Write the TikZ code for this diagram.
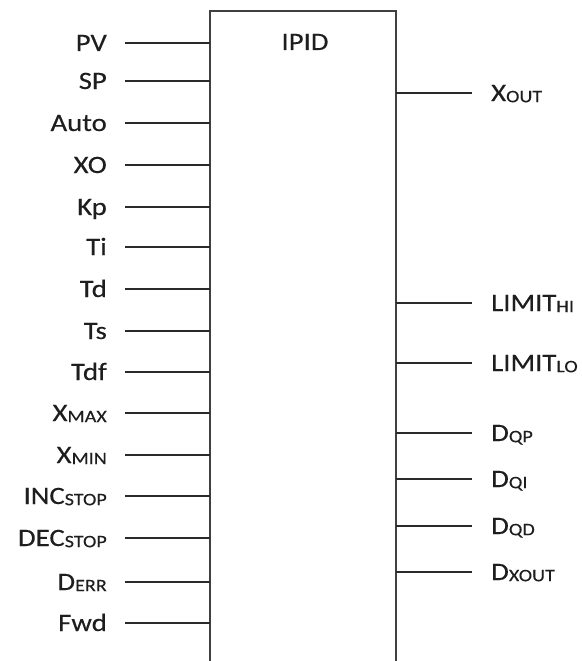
\documentclass[tikz,border=0pt]{standalone}
\usepackage{fontspec}
\setmainfont{Carlito}[FakeStretch=1.15,FakeBold=0.3]
\newcommand{\sbs}[1]{{\fontsize{17.5}{18}\selectfont\raisebox{-1.2pt}{#1}}}
\definecolor{txt}{HTML}{1E1E1E}
\definecolor{boxc}{HTML}{404040}
\definecolor{wirec}{HTML}{2A2A2A}
\tikzset{
  inlab/.style={anchor=base east, inner sep=0pt, text=txt, font=\fontsize{25}{30}\selectfont},
  outlab/.style={anchor=base west, inner sep=0pt, text=txt, font=\fontsize{25}{30}\selectfont},
  wire/.style={draw=wirec, line width=1.3pt},
  blockedge/.style={draw=boxc, line width=1.9pt}
}
\begin{document}
\begin{tikzpicture}[x=1pt,y=-1pt]
\useasboundingbox (0,0) rectangle (581,661);
% block outline (open at the bottom)
\coordinate (blb) at (210,661);
\coordinate (blt) at (210,11);
\coordinate (brt) at (396,11);
\coordinate (brb) at (396,661);
\draw[blockedge] (blb) -- (blt) -- (brt) -- (brb);
\node[anchor=base, inner sep=0pt, text=txt, font=\fontsize{25}{30}\selectfont] (title) at (305,50) {IPID};
% inputs
\foreach \nm/\lab/\yy in {
  pv/PV/43, sp/SP/81, auto/Auto/123, xo/XO/165, kp/Kp/207, ti/Ti/247,
  td/Td/289, ts/Ts/331, tdf/Tdf/372, xmax/X\sbs{MAX}/413, xmin/X\sbs{MIN}/455,
  inc/INC\sbs{STOP}/496, dec/DEC\sbs{STOP}/538, derr/D\sbs{ERR}/582, fwd/Fwd/623}{
  \node[inlab] (l\nm) at (107,\yy+8) {\lab};
  \coordinate (s\nm) at (125,\yy);
  \coordinate (e\nm) at (210,\yy);
  \draw[wire] (s\nm) -- (e\nm);
}
% outputs
\foreach \nm/\lab/\yy in {
  xout/X\sbs{OUT}/93, lhi/LIMIT\sbs{HI}/303, llo/LIMIT\sbs{LO}/363,
  dqp/D\sbs{QP}/433, dqi/D\sbs{QI}/479, dqd/D\sbs{QD}/526, dxout/D\sbs{XOUT}/572}{
  \coordinate (o\nm) at (396,\yy);
  \coordinate (t\nm) at (472,\yy);
  \draw[wire] (o\nm) -- (t\nm);
  \node[outlab] (r\nm) at (491,\yy+8) {\lab};
}
\end{tikzpicture}
\end{document}
